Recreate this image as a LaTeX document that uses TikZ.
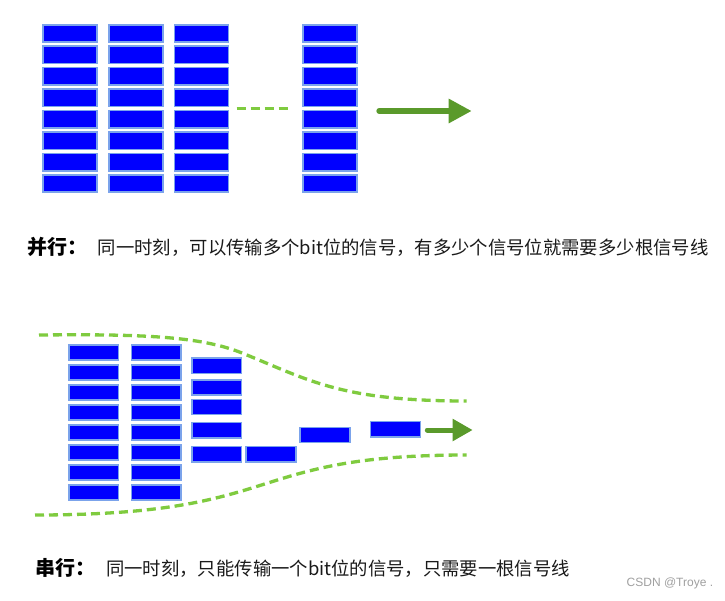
\documentclass[tikz,border=0pt]{standalone}
\usepackage{fontspec}
\newfontfamily\cjk{Noto Sans CJK SC}
\newfontfamily\wmfont{Liberation Sans}
\usetikzlibrary{arrows.meta}
\definecolor{bitblue}{HTML}{0000FF}
\definecolor{bitedge}{HTML}{7BA3EB}
\definecolor{dashgreen}{HTML}{7FCB3F}
\definecolor{arrowgreen}{HTML}{5A9A2B}
\definecolor{wmgray}{HTML}{A0A0A0}
\definecolor{txt}{HTML}{1A1A1A}
\tikzset{
  bitbox/.style={draw=bitedge, fill=bitblue, line width=1.5pt, inner sep=0pt},
  topbit/.style={bitbox, minimum width=54pt, minimum height=17.2pt},
  lowbit/.style={bitbox, minimum width=49.8pt, minimum height=15.2pt},
  greendash/.style={draw=dashgreen, line width=3.3pt, dash pattern=on 9pt off 5pt},
  bigarrow/.style={draw=arrowgreen, line width=6pt, line cap=round, -{Triangle[length=23pt,width=23pt]}},
  smallarrow/.style={draw=arrowgreen, line width=5pt, line cap=round, -{Triangle[length=20pt,width=21pt]}},
  boldlabel/.style={inner sep=0pt, anchor=base west, font=\cjk\bfseries\fontsize{20pt}{24pt}\selectfont, text=black},
  bodylabel/.style={inner sep=0pt, anchor=base west, font=\cjk\fontsize{18.35pt}{22pt}\selectfont, text=txt},
  wmlabel/.style={inner sep=0pt, anchor=west, font=\wmfont\fontsize{12pt}{14pt}\selectfont, text=wmgray}
}
\begin{document}
\begin{tikzpicture}[x=1pt, y=-1pt]
\useasboundingbox[fill=white] (0,0) rectangle (725,600);
% ---- parallel ----
\foreach \c/\x in {1/70,2/135.8,3/201.7,4/330}{
  \foreach \r in {0,...,7}{
    \node[topbit] (t\c-\r) at (\x, {33.35+21.47*\r}) {};
  }
}
\coordinate (d1) at (236.7,108.3);
\coordinate (d2) at (287.7,108.3);
\draw[greendash] (d1) -- (d2);
\coordinate (pa1) at (379.3,111);
\coordinate (pa2) at (471.7,111);
\draw[bigarrow] (pa1) -- (pa2);
\node[boldlabel] (ptitle) at (27,254) {并行：};
\node[bodylabel] (ptext) at (97.7,254) {同一时刻，可以传输多个bit位的信号，有多少个信号位就需要多少根信号线};
% ---- serial ----
\coordinate (u1) at (39,335);
\coordinate (um) at (242,353);
\coordinate (u2) at (466.7,401);
\draw[greendash] (u1) .. controls (140,334) and (200,336) .. (um)
                 .. controls (309,380) and (340,401) .. (u2);
\coordinate (l1) at (35,515);
\coordinate (l2) at (466.7,455);
\draw[greendash] (l1) .. controls (290,515) and (240,455) .. (l2);
\foreach \c/\x in {1/93.8,2/156.3}{
  \foreach \r in {0,...,7}{
    \node[lowbit] (s\c-\r) at (\x, {352.35+20*\r}) {};
  }
}
\foreach \r/\y in {0/365.7,1/387.5,2/407,3/430.3,4/454.2}{
  \node[lowbit] (s3-\r) at (216.7,\y) {};
}
\node[lowbit] (s6) at (271,454.2) {};
\node[lowbit] (s7) at (325,435) {};
\node[lowbit] (s8) at (395.5,429.3) {};
\coordinate (sa1) at (427.3,430);
\coordinate (sa2) at (472.7,430);
\draw[smallarrow] (sa1) -- (sa2);
\node[boldlabel] (stitle) at (35,575) {串行：};
\node[bodylabel] (stext) at (106,575) {同一时刻，只能传输一个bit位的信号，只需要一根信号线};
\node[wmlabel] (wm) at (626.5,583.7) {CSDN @Troye .};
\end{tikzpicture}
\end{document}
